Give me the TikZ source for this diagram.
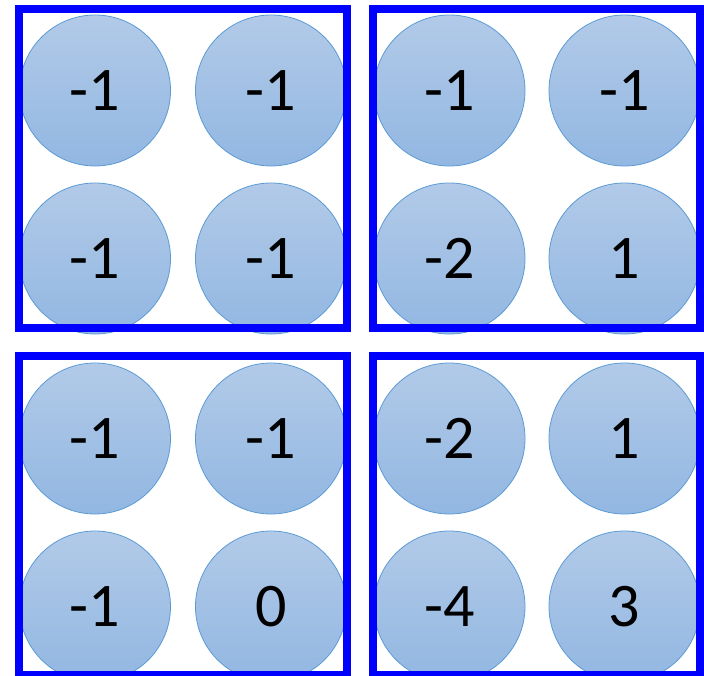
\documentclass[tikz,border=0pt]{standalone}
\usepackage{fontspec}
\setmainfont{Carlito}
\definecolor{cirtop}{RGB}{178,202,232}
\definecolor{cirbot}{RGB}{146,183,226}
\definecolor{cirline}{RGB}{91,155,213}
\definecolor{boxblue}{RGB}{0,0,255}
\tikzset{
  ball/.style={circle, minimum size=151pt, inner sep=0pt, top color=cirtop, bottom color=cirbot, draw=cirline, line width=0.8pt,
    font=\fontsize{62}{62}\selectfont, text=black},
  frame/.style={draw=boxblue, line width=8pt}
}
\begin{document}
\begin{tikzpicture}[x=1pt,y=1pt]
\useasboundingbox (0,0) rectangle (704,-675);
\fill[white] (0,0) rectangle (704,-675);
% circles
\node[ball] (a1) at (95,-90.5) {-1};
\node[ball] (a2) at (271,-90.5) {-1};
\node[ball] (a3) at (95,-258.5) {-1};
\node[ball] (a4) at (271,-258.5) {-1};
\node[ball] (b1) at (449.5,-90.5) {-1};
\node[ball] (b2) at (624.5,-90.5) {-1};
\node[ball] (b3) at (449.5,-258.5) {-2};
\node[ball] (b4) at (624.5,-258.5) {1};
\node[ball] (c1) at (95,-438.5) {-1};
\node[ball] (c2) at (271,-438.5) {-1};
\node[ball] (c3) at (95,-606.5) {-1};
\node[ball] (c4) at (271,-606.5) {0};
\node[ball] (d1) at (449.5,-438.5) {-2};
\node[ball] (d2) at (624.5,-438.5) {1};
\node[ball] (d3) at (449.5,-606.5) {-4};
\node[ball] (d4) at (624.5,-606.5) {3};
% frames
\draw[frame] (19.3,-8.7) rectangle (347,-327.5);
\draw[frame] (373,-8.7) rectangle (700.3,-327.5);
\draw[frame] (19.3,-355.5) rectangle (347,-675);
\draw[frame] (373,-355.5) rectangle (700.3,-675);
\end{tikzpicture}
\end{document}
